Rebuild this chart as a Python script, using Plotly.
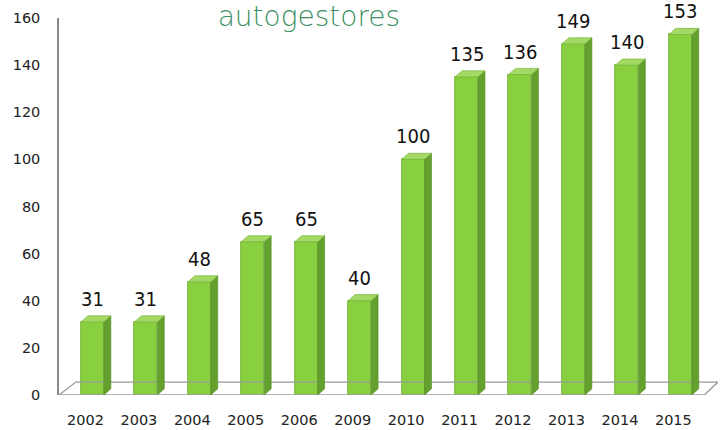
import plotly.graph_objects as go

# data
years = ["2002", "2003", "2004", "2005", "2006", "2009",
         "2010", "2011", "2012", "2013", "2014", "2015"]
values = [31, 31, 48, 65, 65, 40, 100, 135, 136, 149, 140, 153]
y_ticks = [0, 20, 40, 60, 80, 100, 120, 140, 160]

pos = list(range(len(years)))
bar_w = 0.43      # front face width, in category units
dx, dy = 0.13, 2.6  # fake 3d depth (x units, y units)

fig = go.Figure()

# floor of the fake 3d plot area
floor_x = [-0.625, 11.45, 11.705, -0.31, -0.625]
floor_y = [0, 0, 5.5, 5.5, 0]
fig.add_trace(go.Scatter(x=floor_x, y=floor_y, mode="lines",
                         line=dict(color="#9a9a9a", width=1.3),
                         hoverinfo="skip", showlegend=False))

# front faces
fig.add_trace(go.Bar(x=pos, y=values, width=bar_w,
                     marker=dict(color="#88d040", line=dict(color="#6fae34", width=0.8)),
                     hoverinfo="skip", showlegend=False))

# side and top faces
for p, v in zip(pos, values):
    r = p + bar_w / 2
    l = p - bar_w / 2
    fig.add_trace(go.Scatter(x=[r, r + dx, r + dx, r, r], y=[0, dy, v + dy, v, 0],
                             fill="toself", fillcolor="#64a02d", mode="lines",
                             line=dict(color="#558c27", width=0.6),
                             hoverinfo="skip", showlegend=False))
    fig.add_trace(go.Scatter(x=[l, r, r + dx, l + dx, l], y=[v, v, v + dy, v + dy, v],
                             fill="toself", fillcolor="#a3d964", mode="lines",
                             line=dict(color="#6fae34", width=0.6),
                             hoverinfo="skip", showlegend=False))

# value labels
for p, v in zip(pos, values):
    fig.add_annotation(x=p, y=v, text=str(v), showarrow=False,
                       yanchor="bottom", yshift=10, borderpad=0,
                       font=dict(family="DejaVu Sans Condensed", size=20, color="#111111"))

fig.update_layout(
    width=720, height=430,
    margin=dict(l=59, r=2, t=18, b=35),
    paper_bgcolor="white", plot_bgcolor="white",
    title=dict(text="autogestores", xref="container", x=0.429, xanchor="center",
               yref="container", y=0.963, yanchor="middle",
               font=dict(family="DejaVu Sans", size=28, color="#3d8f63", weight=200)),
    xaxis=dict(range=[-0.625, 11.705], showgrid=False, zeroline=False, showline=False,
               automargin=False,
               tickmode="array", tickvals=[p - 0.13 for p in pos], ticktext=years,
               ticks="outside", ticklen=0, ticklabelstandoff=12,
               tickfont=dict(family="DejaVu Sans", size=14.5, color="#222222")),
    yaxis=dict(range=[0, 160], showgrid=False, zeroline=False, automargin=False,
               showline=True, linecolor="#8a8a8a", linewidth=1.5,
               tickmode="array", tickvals=y_ticks,
               ticks="outside", ticklen=0, ticklabelstandoff=14,
               tickfont=dict(family="DejaVu Sans", size=14.5, color="#222222")),
    bargap=0,
)

# drop the default 8px page margin so the figure fills the window
fig.write_html("out.html", config={"displayModeBar": False},
               post_script="document.body.style.margin='0';")
